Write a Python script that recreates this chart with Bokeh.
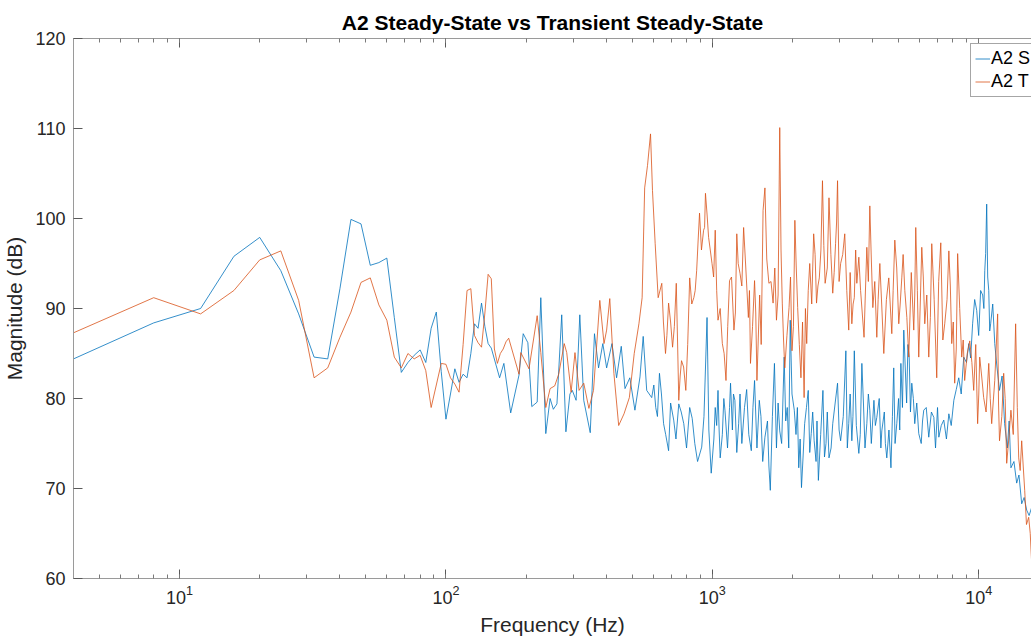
from bokeh.plotting import figure
from bokeh.models import Range1d, LogAxis, LogTicker, SingleIntervalTicker, Legend, LegendItem
from bokeh.embed import file_html
from bokeh.resources import INLINE

title_text = "A2 Steady-State vs Transient Steady-State"
x_label = "Frequency (Hz)"
y_label = "Magnitude (dB)"
labels = ["A2 S", "A2 T"]
y_ticks_interval = 10

# Steady-state (blue): read vertices
ss_freq = [4, 8, 12, 16, 20, 24, 28, 32, 36, 40, 44, 48, 52, 56, 60, 64, 68, 72, 76, 80,
           84, 88, 92, 96, 100, 104, 108, 112, 116, 120, 124, 128, 132, 136, 140, 144, 148,
           159, 165, 175, 188, 195, 203, 210, 220, 227, 237, 246, 253, 261, 272, 282, 292,
           298, 308, 318, 329, 348, 361, 374, 388, 401, 420, 437, 455, 470, 490, 512, 535,
           550, 567, 592, 613, 633, 656, 685, 716, 748, 781, 822, 859, 912, 955, 990, 1025,
           1050, 1070, 1115, 1170, 1215, 1255, 1320, 1400, 1440, 1500, 1575, 1650, 1710,
           1790, 1860, 1910, 1960, 2030, 2110, 2160, 2220, 2290, 2350, 2410, 2500, 2600,
           2670, 2740, 2830, 2950, 3030, 3170, 3250, 3338, 3410, 3546, 3640, 3800, 3899,
           4040, 4142, 4325, 4516, 4680, 4795, 4923, 5100, 5230, 5480, 5604, 5750, 5952,
           6215, 6490, 6780, 7080, 7390, 7720, 8060, 8410, 8780, 9170, 9480, 9821, 10160,
           10530, 10610, 10707, 10900, 11080, 11480, 11960, 12500, 13200, 13874, 14488,
           15126, 15794]
ss_db = [84.4, 88.4, 90.0, 95.8, 97.9, 94.2, 89.4, 84.6, 84.4, 92.2, 99.9, 99.4, 94.8, 95.1,
         95.6, 89.0, 82.9, 84.0, 84.8, 85.4, 84.0, 87.8, 89.6, 83.0, 77.7, 80.5, 83.3, 81.8,
         82.7, 82.3, 85.0, 88.3, 87.8, 90.6, 88.0, 86.1, 85.6, 82.3, 83.9, 78.4, 82.6, 87.2,
         86.2, 79.1, 79.6, 91.2, 76.1, 80.0, 78.8, 79.4, 89.3, 76.3, 80.5, 80.9, 79.8, 89.3,
         79.8, 76.2, 87.2, 83.4, 86.1, 83.4, 86.1, 82.3, 85.8, 81.1, 82.3, 78.7, 82.4, 86.9,
         80.9, 80.1, 79.0, 82.8, 77.2, 74.2, 77.6, 79.4, 77.2, 79.0, 75.0, 74.6, 89.0, 71.7,
         79.0, 80.9, 73.4, 78.7, 81.7, 79.8, 77.2, 79.0, 74.2, 82.0, 79.8, 75.7, 69.8, 83.9,
         76.4, 84.6, 79.0, 88.7, 78.7, 72.3, 70.1, 77.2, 80.9, 76.1, 75.3, 70.9, 80.9, 75.0,
         73.4, 77.2, 81.7, 75.3, 85.3, 77.2, 75.3, 85.3, 73.9, 83.9, 77.2, 78.7, 79.8, 77.9,
         76.4, 73.4, 72.3, 83.4, 77.2, 83.9, 87.6, 84.6, 81.7, 77.2, 76.1, 78.7, 75.7, 77.9,
         75.7, 77.6, 78.3, 79.8, 82.3, 84.6, 86.1, 88.3, 89.8, 92.0, 94.2, 96.1, 101.6, 92.0,
         88.3, 86.1, 80.9, 77.2, 72.3, 70.6, 68.3, 67.6, 67.9]

# Steady-state (blue): extra readings inside the dense band
ss_band_freq = [603, 622, 644, 668, 697, 730, 764, 800, 840, 880, 930, 970, 1013, 1038,
                1060, 1090, 1104, 1140, 1160, 1189, 1200, 1235, 1270, 1290, 1345, 1370,
                1420, 1470, 1522, 1545, 1610, 1630, 1680, 1740, 1765, 1820, 1885, 1935,
                1990, 2060, 2085, 2135, 2190, 2255, 2320, 2380, 2450, 2470, 2550, 2635,
                2700, 2790, 2890, 2990, 3100, 3210, 3290, 3370, 3470, 3590, 3690, 3740,
                3850, 3950, 4090, 4230, 4290, 4420, 4460, 4600, 4740, 4850, 5000, 5050,
                5170, 5360, 5420, 5540, 5680, 5850, 6080, 6150, 6350, 6640, 6880, 7000,
                7230, 7560, 7880, 8230, 8590, 8990, 9320, 9650, 9990, 10340, 10450, 10800,
                10990, 11280, 11700, 12230, 12800, 13000, 13550, 14150, 14800, 15450]
ss_band_db = [81.5, 78.0, 80.5, 76.0, 79.5, 75.5, 78.5, 74.5, 77.8, 73.0, 78.0, 76.5, 75.5,
              77.0, 76.5, 76.0, 80.0, 74.5, 79.0, 76.5, 80.5, 74.0, 80.5, 75.0, 81.0, 76.0,
              79.0, 74.5, 78.0, 73.0, 77.5, 72.5, 78.0, 74.5, 79.5, 75.0, 77.5, 74.5, 80.5,
              76.0, 79.0, 75.5, 73.5, 79.0, 74.0, 78.5, 73.0, 77.5, 76.0, 73.5, 78.5, 74.5,
              79.5, 76.5, 78.0, 74.5, 80.5, 78.0, 77.0, 76.0, 79.5, 74.5, 80.5, 75.0, 77.0,
              80.0, 74.5, 78.5, 75.0, 76.5, 78.0, 75.0, 80.0, 76.5, 79.0, 79.5, 86.0, 78.5,
              80.0, 79.5, 75.0, 77.5, 79.0, 78.5, 74.5, 79.0, 77.0, 75.5, 77.0, 81.0, 80.5,
              84.0, 84.5, 91.0, 87.0, 91.5, 90.0, 93.5, 87.5, 90.5, 83.5, 82.5, 74.5, 77.5,
              73.0, 71.5, 69.0, 67.0]

# Transient steady-state (orange): read vertices
tss_freq = [4, 8, 12, 16, 20, 24, 28, 32, 36, 40, 44, 48, 52, 56, 60, 64, 68, 72, 76, 80,
            84, 88, 92, 96, 100, 104, 108, 112, 116, 120, 124, 128, 132, 136, 140, 144, 148,
            152, 156, 160, 164, 168, 172, 188, 191, 205, 220, 227, 237, 246, 256, 265, 278,
            284, 295, 305, 316, 329, 344, 358, 378, 392, 401, 412, 427, 445, 466, 488, 509,
            530, 545, 557, 571, 586, 596, 610, 626, 646, 667, 685, 709, 732, 748, 766, 795,
            822, 852, 873, 895, 927, 942, 968, 997, 1025, 1050, 1090, 1125, 1160, 1205, 1235,
            1270, 1310, 1365, 1390, 1440, 1470, 1550, 1575, 1630, 1690, 1740, 1790, 1830,
            1870, 1940, 1990, 2040, 2090, 2150, 2210, 2260, 2320, 2400, 2460, 2520, 2590,
            2650, 2740, 2830, 2900, 2950, 3030, 3140, 3250, 3338, 3410, 3485, 3546, 3709,
            3800, 3899, 4002, 4142, 4252, 4400, 4594, 4715, 4839, 5008, 5140, 5276, 5460,
            5700, 5800, 5952, 6109, 6270, 6490, 6660, 6953, 7200, 7450, 7720, 7915, 8120,
            8330, 8629, 8850, 9250, 9570, 9900, 10080, 10430, 10900, 11180, 11770, 11960,
            12400, 12727, 13200, 13750, 14120, 14488, 14870, 15390, 15794]
tss_db = [87.3, 91.2, 89.4, 92.0, 95.4, 96.4, 90.9, 82.3, 83.4, 86.8, 89.6, 92.9, 93.4, 90.4,
          88.7, 84.6, 83.4, 85.0, 84.4, 84.8, 83.1, 79.0, 81.5, 83.9, 83.8, 82.3, 81.6, 80.7,
          86.0, 92.0, 92.2, 87.0, 86.2, 85.7, 89.5, 93.8, 93.3, 85.5, 83.9, 85.0, 85.5, 86.3,
          86.7, 82.7, 85.1, 83.3, 89.2, 85.1, 79.0, 81.1, 81.4, 82.7, 86.1, 85.1, 80.7, 85.1,
          80.9, 81.7, 78.9, 80.9, 90.9, 86.1, 87.6, 91.1, 82.8, 77.0, 78.3, 80.1, 85.0, 88.3,
          91.2, 103.4, 105.9, 109.4, 103.1, 97.2, 91.2, 92.8, 85.0, 90.6, 85.7, 92.8, 79.8,
          84.2, 80.9, 93.4, 91.2, 94.2, 100.6, 98.7, 102.8, 97.9, 95.0, 98.7, 88.7, 86.1,
          82.0, 93.1, 87.6, 98.3, 93.9, 99.0, 89.0, 83.9, 93.1, 82.0, 100.9, 103.4, 92.8,
          90.6, 88.7, 110.1, 90.6, 83.4, 90.1, 85.3, 99.8, 90.1, 82.3, 80.1, 86.1, 95.0,
          98.3, 90.6, 93.4, 104.2, 92.8, 102.3, 91.7, 97.2, 104.2, 95.0, 98.3, 87.6, 88.3,
          91.2, 92.8, 95.7, 86.8, 96.8, 101.4, 90.1, 86.8, 95.0, 85.0, 93.4, 87.2, 97.6,
          88.3, 93.4, 92.0, 84.6, 87.6, 99.0, 84.6, 96.8, 88.3, 84.6, 97.2, 82.3, 97.3,
          88.3, 96.4, 86.1, 81.7, 96.1, 84.6, 82.0, 86.4, 80.9, 77.2, 84.6, 80.1, 83.9,
          77.2, 89.4, 75.3, 82.8, 72.8, 78.7, 88.3, 73.4, 75.3, 69.8, 66.8, 61.7]

# Transient steady-state (orange): extra readings inside the dense band
tss_band_freq = [655, 675, 697, 720, 740, 757, 780, 808, 837, 862, 884, 910, 935, 955, 982,
                 1011, 1038, 1070, 1107, 1142, 1180, 1220, 1250, 1290, 1335, 1378, 1415,
                 1455, 1505, 1525, 1600, 1660, 1715, 1765, 1810, 1850, 1905, 1965, 2015,
                 2065, 2120, 2180, 2235, 2290, 2360, 2430, 2490, 2555, 2620, 2700, 2785,
                 2865, 2925, 2990, 3085, 3195, 3290, 3375, 3450, 3600, 3750, 3850, 3950,
                 4070, 4190, 4320, 4500, 4650, 4770, 4920, 5070, 5200, 5370, 5580, 5750,
                 5880, 6030, 6190, 6380, 6580, 6800, 7070, 7330, 7600, 7820, 8020, 8230,
                 8480, 8740, 9050, 9420, 9740, 10000, 10250, 10650, 11040, 11480, 11860,
                 12200, 12560, 12960, 13470, 13950, 14300, 14680, 15100, 15600]
tss_band_db = [88.5, 87.0, 88.5, 88.0, 86.5, 82.5, 83.5, 86.0, 90.5, 92.0, 97.5, 96.5, 99.0,
               100.5, 96.5, 93.5, 92.0, 90.0, 85.0, 88.0, 93.5, 89.5, 95.0, 92.5, 94.5, 92.0,
               88.0, 89.5, 91.5, 86.0, 95.5, 93.0, 94.5, 91.5, 96.5, 86.5, 87.0, 93.5, 88.0,
               94.5, 86.0, 88.5, 90.0, 92.0, 90.5, 96.0, 92.5, 96.5, 97.0, 94.5, 96.0, 94.0,
               99.5, 93.0, 96.0, 92.0, 94.0, 90.5, 96.5, 92.0, 91.5, 93.0, 95.5, 93.0, 91.0,
               90.5, 91.0, 90.5, 92.0, 94.5, 90.5, 96.0, 89.0, 94.0, 91.5, 92.0, 90.5, 93.5,
               91.5, 89.0, 91.0, 93.0, 86.5, 91.0, 92.5, 88.5, 85.5, 90.0, 86.5, 85.0, 84.0,
               86.0, 80.5, 82.5, 78.5, 80.0, 82.0, 79.5, 78.0, 80.0, 75.5, 76.0, 79.0, 72.0,
               72.5, 66.0, 65.0]

ss_pts = sorted(zip(ss_freq + ss_band_freq, ss_db + ss_band_db))
tss_pts = sorted(zip(tss_freq + tss_band_freq, tss_db + tss_band_db))

FONT = "Liberation Sans"
BLUE = "#0072BD"
ORANGE = "#D95319"

p = figure(width=1031, height=644, x_axis_type="log",
           x_range=Range1d(4, 15770), y_range=Range1d(60, 120),
           output_backend="svg", toolbar_location=None,
           min_border_left=72, min_border_right=0, min_border_top=38, min_border_bottom=66,
           title=title_text)
p.background_fill_color = "white"
p.border_fill_color = "white"
p.outline_line_color = None
p.grid.visible = False

p.title.text_font = FONT
p.title.text_font_size = "21px"
p.title.text_font_style = "bold"
p.title.text_color = "#000000"
p.title.align = "center"
p.title.standoff = 10

r1 = p.line([f for f, _ in ss_pts], [d for _, d in ss_pts], line_color=BLUE, line_width=0.8)
r2 = p.line([f for f, _ in tss_pts], [d for _, d in tss_pts], line_color=ORANGE, line_width=0.8)

xa = p.xaxis[0]
xa.ticker = LogTicker(mantissas=[1], num_minor_ticks=10)
ya = p.yaxis[0]
ya.ticker = SingleIntervalTicker(interval=y_ticks_interval, num_minor_ticks=0)
xa.axis_label = x_label
ya.axis_label = y_label

for ax in (xa, ya):
    ax.axis_line_color = "#9a9a9a"
    ax.axis_line_width = 1
    ax.major_tick_in = 9
    ax.major_tick_out = 0
    ax.minor_tick_in = 4
    ax.minor_tick_out = 0
    ax.major_tick_line_color = "#5a5a5a"
    ax.minor_tick_line_color = "#7a7a7a"
    ax.major_label_text_font = FONT
    ax.major_label_text_font_size = "18px"
    ax.major_label_text_color = "#262626"
    ax.axis_label_text_font = FONT
    ax.axis_label_text_font_size = "21px"
    ax.axis_label_text_font_style = "normal"
    ax.axis_label_text_color = "#262626"
xa.major_label_standoff = 6
xa.axis_label_standoff = 6
ya.major_label_standoff = 8
ya.axis_label_standoff = 6

top = LogAxis(ticker=LogTicker(mantissas=[1], num_minor_ticks=10))
top.axis_line_color = "#9a9a9a"
top.major_tick_in = 9
top.major_tick_out = 0
top.minor_tick_in = 4
top.minor_tick_out = 0
top.major_tick_line_color = "#5a5a5a"
top.minor_tick_line_color = "#7a7a7a"
top.major_label_text_font_size = "1px"
top.major_label_text_alpha = 0
top.major_label_standoff = 0
p.add_layout(top, "above")

legend = Legend(items=[LegendItem(label=labels[0], renderers=[r1]),
                       LegendItem(label=labels[1], renderers=[r2])],
                location=(897, 481))
legend.label_text_font = FONT
legend.label_text_font_size = "18px"
legend.label_text_color = "#000000"
legend.label_height = 21
legend.glyph_height = 21
legend.glyph_width = 15
legend.label_standoff = 1
legend.spacing = 2
legend.padding = 4
legend.margin = 0
legend.border_line_color = "#4d4d4d"
legend.border_line_width = 1
legend.background_fill_color = "white"
legend.background_fill_alpha = 1
p.add_layout(legend)

open("out.html", "w").write(file_html(p, INLINE))
